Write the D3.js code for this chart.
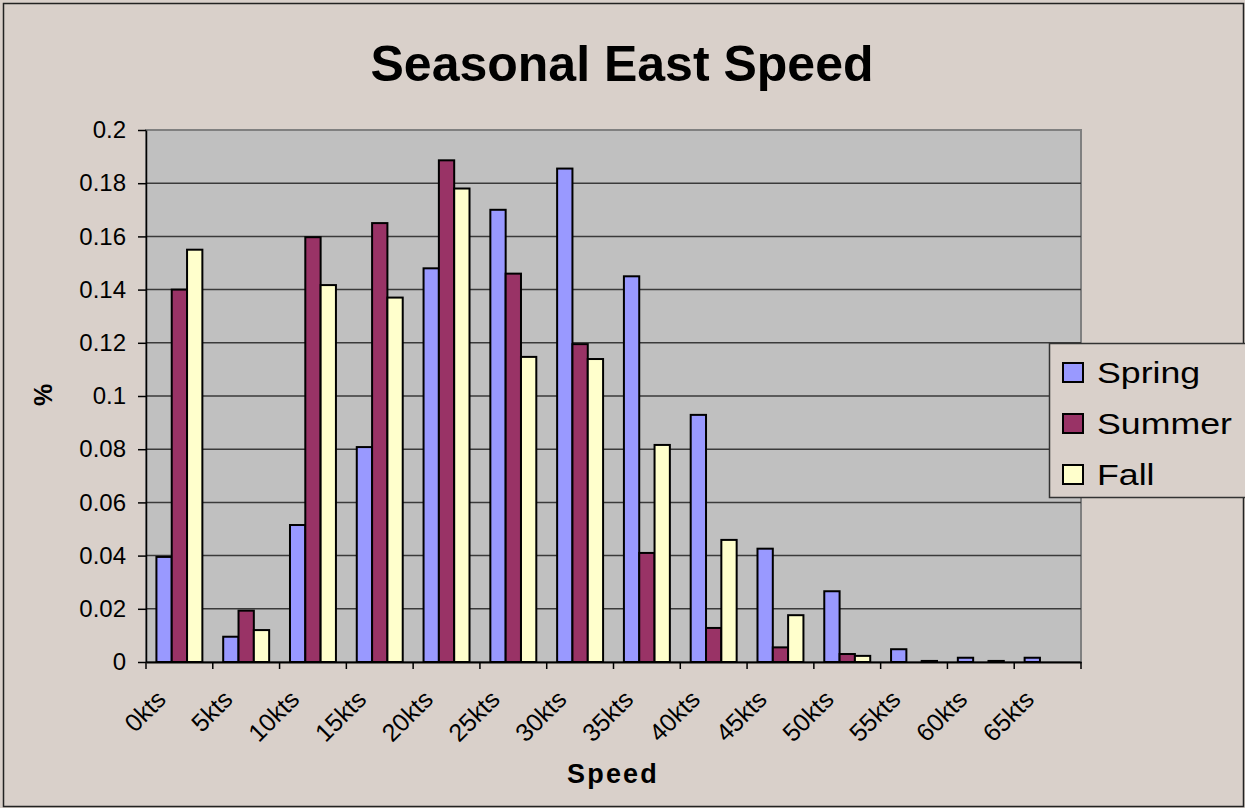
<!DOCTYPE html>
<html>
<head>
<meta charset="utf-8">
<script src="https://cdn.jsdelivr.net/npm/d3@7"></script>
<style>
  body { margin: 0; background: #d9d0ca; }
  svg text { font-family: "Liberation Sans", Arial, sans-serif; fill: #000; }
</style>
</head>
<body>
<div id="vis"></div>
<script>
const FRAME_WIDTH = 1245;
const FRAME_HEIGHT = 808;
const MARGINS = {left: 146, right: 164, top: 130, bottom: 146};

// data
const categories = ["0kts", "5kts", "10kts", "15kts", "20kts", "25kts", "30kts",
                    "35kts", "40kts", "45kts", "50kts", "55kts", "60kts", "65kts"];
const seriesNames = ["Spring", "Summer", "Fall"];
const spring = [0.0395, 0.0095, 0.0515, 0.0808, 0.148, 0.170, 0.1855,
                0.145, 0.0929, 0.0426, 0.0266, 0.0048, 0.0016, 0.0016];
const summer = [0.140, 0.0193, 0.1597, 0.165, 0.1886, 0.146, 0.1195,
                0.041, 0.0128, 0.0055, 0.003, 0, 0, 0];
const fall = [0.155, 0.012, 0.1417, 0.137, 0.178, 0.1147, 0.1139,
              0.0816, 0.0459, 0.0176, 0.0023, 0.0004, 0.0004, 0];
const yTicks = [0, 0.02, 0.04, 0.06, 0.08, 0.1, 0.12, 0.14, 0.16, 0.18, 0.2];
const colors = ["#9999ff", "#993366", "#ffffcc"];

const VIS_WIDTH = FRAME_WIDTH - MARGINS.left - MARGINS.right;
const VIS_HEIGHT = FRAME_HEIGHT - MARGINS.top - MARGINS.bottom;

const svg = d3.select("#vis")
  .append("svg")
    .attr("width", FRAME_WIDTH)
    .attr("height", FRAME_HEIGHT);

// outer frame
svg.append("rect")
  .attr("x", 3.5).attr("y", 3.5)
  .attr("width", FRAME_WIDTH - 5).attr("height", FRAME_HEIGHT - 5)
  .attr("fill", "#d9d0ca")
  .attr("stroke", "#222").attr("stroke-width", 1.5);

// title
svg.append("text")
  .attr("x", 622).attr("y", 81)
  .attr("text-anchor", "middle")
  .attr("font-size", "50px")
  .attr("font-weight", "bold")
  .text("Seasonal East Speed");

const X_SCALE = d3.scaleBand()
  .domain(categories)
  .range([0, VIS_WIDTH])
  .paddingInner(0).paddingOuter(0);

const X_SUB = d3.scaleBand()
  .domain(seriesNames)
  .range([0, X_SCALE.bandwidth()])
  .paddingInner(0).paddingOuter(0.68);

const Y_SCALE = d3.scaleLinear()
  .domain([0, 0.2])
  .range([VIS_HEIGHT, 0]);

const plot = svg.append("g")
  .attr("transform", "translate(" + MARGINS.left + "," + MARGINS.top + ")");

// plot background
plot.append("rect")
  .attr("width", VIS_WIDTH).attr("height", VIS_HEIGHT)
  .attr("fill", "#c0c0c0")
  .attr("stroke", "#808080").attr("stroke-width", 2);

// gridlines
plot.selectAll(".grid")
  .data(yTicks.slice(1, -1))
  .enter()
  .append("line")
    .attr("x1", 0).attr("x2", VIS_WIDTH)
    .attr("y1", (d) => Y_SCALE(d)).attr("y2", (d) => Y_SCALE(d))
    .attr("stroke", "#3a3a3a").attr("stroke-width", 1.5);

// bars
const rows = categories.map((c, i) => ({cat: c, vals: [spring[i], summer[i], fall[i]]}));

const groups = plot.selectAll(".group")
  .data(rows)
  .enter()
  .append("g")
    .attr("transform", (d) => "translate(" + X_SCALE(d.cat) + ",0)");

groups.selectAll("rect")
  .data((d) => d.vals.map((v, j) => ({name: seriesNames[j], v: v, j: j})).filter((e) => e.v > 0))
  .enter()
  .append("rect")
    .attr("x", (d) => X_SUB(d.name))
    .attr("y", (d) => Y_SCALE(d.v))
    .attr("width", X_SUB.bandwidth())
    .attr("height", (d) => VIS_HEIGHT - Y_SCALE(d.v))
    .attr("fill", (d) => colors[d.j])
    .attr("stroke", "#000").attr("stroke-width", 2);

// y axis
const yAxis = plot.append("g")
  .call(d3.axisLeft(Y_SCALE).tickValues(yTicks).tickFormat((d) => d3.format("")(+d.toFixed(2))).tickSize(8).tickSizeOuter(0));
yAxis.select(".domain").attr("stroke", "#000").attr("stroke-width", 1.5);
yAxis.selectAll(".tick line").attr("stroke", "#000").attr("stroke-width", 1.5);
yAxis.selectAll(".tick text")
  .attr("font-size", "24px")
  .attr("x", -20)
  .attr("font-family", "Liberation Sans, Arial, sans-serif");

// x axis
const xAxis = plot.append("g")
  .attr("transform", "translate(0," + VIS_HEIGHT + ")")
  .call(d3.axisBottom(X_SCALE).tickSize(0).tickSizeOuter(0));
xAxis.select(".domain").attr("stroke", "#000").attr("stroke-width", 2);
xAxis.selectAll(".tick text")
  .attr("font-size", "25px")
  .attr("font-family", "Liberation Sans, Arial, sans-serif")
  .attr("text-anchor", "end")
  .attr("x", 0).attr("y", 0).attr("dy", 0)
  .attr("transform", "translate(-12,39) rotate(-45)");

// x tick marks at category boundaries
xAxis.selectAll(".bound")
  .data(d3.range(categories.length + 1))
  .enter()
  .append("line")
    .attr("x1", (i) => i * X_SCALE.step()).attr("x2", (i) => i * X_SCALE.step())
    .attr("y1", 0).attr("y2", 7)
    .attr("stroke", "#000").attr("stroke-width", 1.5);

// axis titles
svg.append("text")
  .attr("transform", "translate(52,395) rotate(-90)")
  .attr("text-anchor", "middle")
  .attr("font-size", "25px")
  .attr("font-weight", "bold")
  .text("%");

svg.append("text")
  .attr("x", 613).attr("y", 783)
  .attr("text-anchor", "middle")
  .attr("font-size", "27px")
  .attr("font-weight", "bold")
  .attr("letter-spacing", "2.2px")
  .text("Speed");

// legend
const legend = svg.append("g").attr("transform", "translate(1049,343)");
legend.append("rect")
  .attr("x", 0.5).attr("y", 0.5)
  .attr("width", 200).attr("height", 154)
  .attr("fill", "#d9d0ca")
  .attr("stroke", "#333").attr("stroke-width", 1.5);

const items = legend.selectAll(".item")
  .data(seriesNames)
  .enter()
  .append("g")
    .attr("transform", (d, i) => "translate(13," + (29 + i * 51) + ")");
items.append("rect")
  .attr("x", 1).attr("y", -9)
  .attr("width", 20).attr("height", 19)
  .attr("fill", (d, i) => colors[i])
  .attr("stroke", "#000").attr("stroke-width", 2);
items.append("text")
  .attr("transform", "translate(35,11) scale(1.19,1)")
  .attr("font-size", "30px")
  .text((d) => d);
</script>
</body>
</html>
